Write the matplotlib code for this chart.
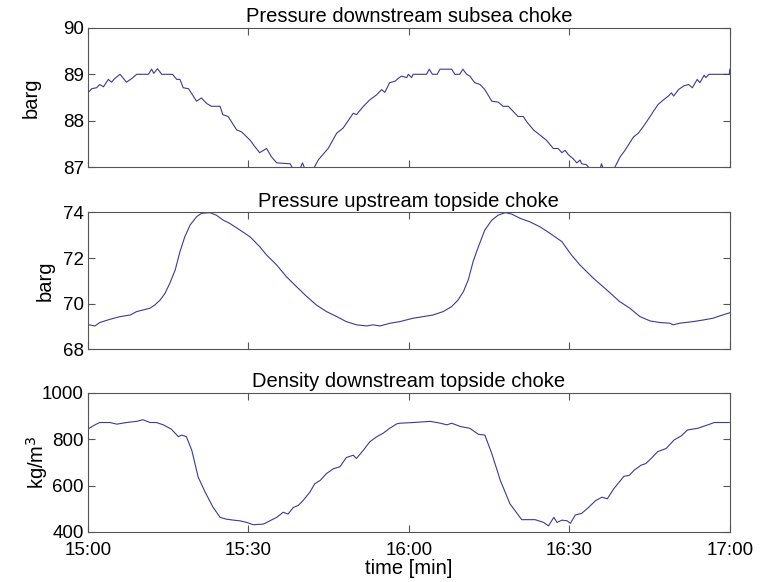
import numpy as np
import matplotlib
matplotlib.use("Agg")
import matplotlib.pyplot as plt

plt.rcParams['font.family'] = ['Liberation Sans', 'DejaVu Sans']

# time axis in minutes after 15:00
tick_pos = [0, 30, 60, 90, 120]
tick_labels = ['15:00', '15:30', '16:00', '16:30', '17:00']

# pressure downstream subsea choke [barg]
t_sub = [0.0, 0.7, 1.6, 2.2, 2.9, 3.8, 4.4, 5.0, 6.0, 7.2, 8.2, 9.1, 11.3, 11.9, 12.3,
         13.0, 13.8, 15.8, 16.6, 17.2, 17.8, 18.8, 20.3, 21.2, 22.2, 23.1, 24.7, 25.2,
         26.2, 27.8, 28.7, 30.3, 31.2, 32.1, 33.4, 34.3, 35.3, 37.8, 38.4, 39.6, 40.1,
         40.6, 42.1, 43.1, 44.0, 44.9, 46.5, 47.7, 49.6, 50.2, 51.5, 52.7, 54.0, 54.9,
         55.5, 56.4, 57.4, 58.0, 58.6, 59.6, 59.9, 60.5, 60.8, 63.3, 63.8, 64.4, 65.3,
         65.8, 68.0, 68.6, 69.5, 70.1, 70.8, 71.4, 72.3, 73.3, 74.2, 75.5, 76.7, 77.6,
         78.6, 80.4, 81.4, 82.0, 83.3, 84.5, 85.7, 87.0, 87.9, 88.6, 89.2, 89.8, 90.7,
         91.4, 92.0, 92.3, 93.2, 93.9, 95.7, 96.0, 96.4, 98.3, 99.5, 100.4, 102.0, 102.9,
         103.8, 105.1, 105.7, 106.6, 107.6, 108.5, 109.1, 109.5, 110.4, 111.4, 112.3,
         113.0, 113.9, 114.4, 115.2, 115.5, 116.1, 119.9, 120.0]
p_sub = [88.60, 88.69, 88.71, 88.78, 88.73, 88.89, 88.83, 88.91, 89.00, 88.83, 88.91,
         89.00, 89.00, 89.11, 89.02, 89.12, 89.00, 89.00, 88.89, 88.89, 88.71, 88.69,
         88.42, 88.49, 88.37, 88.31, 88.31, 88.13, 88.09, 87.80, 87.76, 87.58, 87.44,
         87.31, 87.40, 87.22, 87.09, 87.07, 86.95, 86.95, 87.09, 86.95, 86.95, 87.16,
         87.28, 87.40, 87.73, 87.84, 88.16, 88.13, 88.31, 88.45, 88.56, 88.67, 88.61,
         88.82, 88.85, 88.91, 88.96, 88.93, 89.00, 88.93, 89.00, 89.00, 89.11, 89.00,
         89.00, 89.11, 89.11, 89.00, 89.00, 89.11, 89.00, 88.96, 88.82, 88.78, 88.67,
         88.42, 88.40, 88.31, 88.31, 88.09, 88.09, 87.98, 87.80, 87.69, 87.58, 87.40,
         87.40, 87.31, 87.36, 87.27, 87.18, 87.09, 87.15, 87.07, 87.05, 86.95, 86.95,
         87.07, 86.95, 86.95, 87.22, 87.36, 87.65, 87.73, 87.87, 88.09, 88.20, 88.35,
         88.45, 88.53, 88.60, 88.53, 88.67, 88.75, 88.78, 88.71, 88.89, 88.82, 88.98,
         88.93, 89.00, 89.00, 89.11]

# pressure upstream topside choke [barg]
t_top = [0.2, 1.3, 2.2, 4.1, 6.0, 7.9, 9.1, 10.3, 11.6, 12.5, 13.5, 14.4, 15.3, 16.3,
         17.2, 18.1, 19.1, 20.3, 21.2, 22.8, 24.0, 25.3, 26.5, 28.4, 30.3, 32.1, 33.4,
         35.3, 37.1, 39.0, 40.9, 42.7, 44.6, 46.5, 48.3, 50.2, 52.1, 53.3, 54.6, 56.5,
         58.3, 60.8, 62.7, 64.5, 66.4, 68.0, 69.2, 70.2, 71.1, 72.0, 73.0, 74.2, 75.5,
         76.7, 78.0, 79.2, 80.8, 82.6, 84.5, 86.4, 88.6, 90.4, 92.0, 94.5, 97.0, 99.4,
         101.3, 103.2, 105.1, 106.9, 108.8, 109.4, 110.6, 113.1, 115.0, 116.9, 118.1,
         120.0]
p_top = [69.07, 69.02, 69.17, 69.31, 69.43, 69.50, 69.65, 69.72, 69.80, 69.94, 70.16,
         70.45, 70.89, 71.47, 72.28, 72.93, 73.45, 73.81, 73.96, 73.99, 73.88, 73.66,
         73.52, 73.23, 72.93, 72.50, 72.13, 71.69, 71.18, 70.74, 70.31, 69.94, 69.65,
         69.43, 69.21, 69.07, 69.02, 69.07, 69.02, 69.14, 69.21, 69.36, 69.43, 69.50,
         69.65, 69.87, 70.16, 70.53, 71.04, 71.84, 72.50, 73.23, 73.66, 73.88, 73.99,
         73.93, 73.74, 73.59, 73.37, 73.08, 72.72, 72.13, 71.69, 71.11, 70.60, 70.09,
         69.80, 69.43, 69.24, 69.17, 69.14, 69.07, 69.14, 69.21, 69.28, 69.36, 69.46,
         69.60]

# density downstream topside choke [kg/m3]
t_den = [0.2, 1.3, 2.2, 4.1, 5.4, 7.2, 9.1, 10.3, 11.6, 12.8, 14.1, 15.6, 16.9, 17.5,
         18.4, 19.4, 20.6, 21.9, 23.4, 24.7, 25.9, 27.2, 28.4, 29.7, 30.9, 32.8, 34.0,
         35.3, 36.5, 37.4, 38.4, 39.3, 40.2, 41.5, 42.4, 43.4, 44.6, 45.9, 47.1, 48.3,
         49.6, 50.2, 51.5, 52.7, 54.0, 55.2, 56.4, 57.7, 58.3, 60.8, 64.0, 65.9, 67.1,
         68.0, 69.6, 71.4, 73.0, 74.2, 75.5, 77.1, 78.9, 81.1, 83.6, 85.2, 86.1, 87.1,
         87.7, 88.6, 89.6, 90.2, 91.1, 92.3, 93.6, 94.9, 96.1, 97.1, 98.3, 100.2, 101.2,
         102.1, 103.4, 104.3, 105.3, 106.5, 108.1, 109.6, 110.9, 112.1, 114.0, 115.9,
         117.1, 119.9]
rho = [847, 862, 872, 872, 865, 872, 877, 884, 872, 872, 862, 843, 811, 818, 811, 753,
       637, 572, 506, 463, 455, 451, 448, 441, 431, 434, 448, 463, 485, 477, 506, 514,
       535, 572, 608, 622, 652, 673, 681, 721, 731, 717, 753, 789, 811, 826, 847, 866,
       869, 872, 877, 869, 862, 869, 855, 847, 821, 818, 738, 622, 521, 453, 453, 441,
       426, 463, 441, 451, 448, 437, 473, 480, 506, 535, 550, 543, 586, 640, 644, 666,
       688, 695, 717, 746, 760, 797, 814, 840, 847, 862, 872, 872]

line_col = '#3a3a9a'
box_col = '#555555'

fig = plt.figure(figsize=(7.65, 5.82), dpi=100)
left, width = 0.115, 0.839
axs = [fig.add_axes([left, 0.713, width, 0.239]),
       fig.add_axes([left, 0.400, width, 0.235]),
       fig.add_axes([left, 0.086, width, 0.239])]

panels = [
    (t_sub, p_sub, 'Pressure downstream subsea choke', 'barg', (87, 90), [87, 88, 89, 90], -0.088),
    (t_top, p_top, 'Pressure upstream topside choke', 'barg', (68, 74), [68, 70, 72, 74], -0.066),
    (t_den, rho, 'Density downstream topside choke', 'kg/m$^3$', (400, 1000), [400, 600, 800, 1000], -0.080),
]

for i, (ax, (t, y, title, ylab, ylim, yt, lx)) in enumerate(zip(axs, panels)):
    ax.plot(t, y, color=line_col, lw=0.8)
    ax.set_xlim(0, 120)
    ax.set_ylim(*ylim)
    ax.set_yticks(yt)
    ax.set_xticks(tick_pos)
    if i == 2:
        ax.set_xticklabels(tick_labels)
    else:
        ax.set_xticklabels([])
    ax.set_title(title, fontsize=14.5, pad=4)
    ax.set_ylabel(ylab, fontsize=14.5, va='center')
    ax.yaxis.set_label_coords(lx, 0.5)
    ax.tick_params(direction='in', length=5, width=0.8, top=True, right=True,
                   labelsize=13.5, color=box_col, pad=3)
    ax.tick_params(axis='x', pad=7)
    for s in ax.spines.values():
        s.set_color(box_col)
        s.set_linewidth(0.8)

axs[2].set_xlabel('time [min]', fontsize=14.5, labelpad=0)

fig.savefig('out.png', dpi=100)
